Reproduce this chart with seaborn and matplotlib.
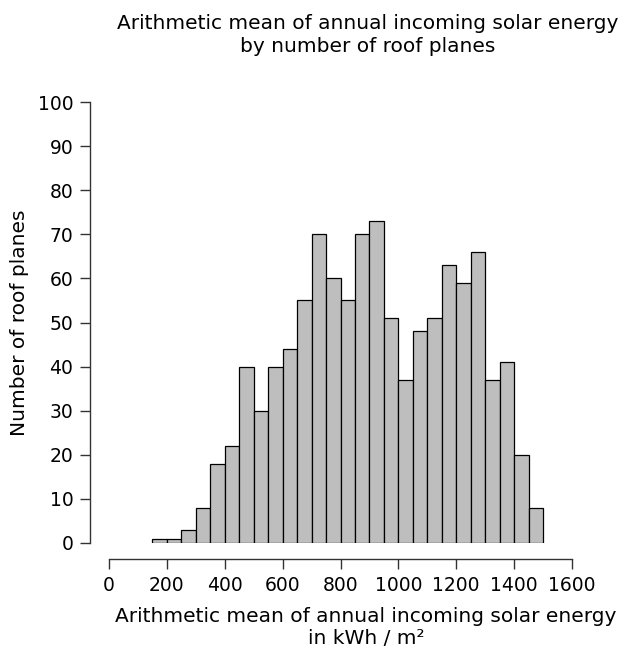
import numpy as np
import pandas as pd
import matplotlib
matplotlib.use("Agg")
import matplotlib.pyplot as plt
import seaborn as sns

# bin edges (kWh / m2) and counts per bin
bin_edges = list(range(150, 1501, 50))
counts = [1, 1, 3, 8, 18, 22, 40, 30, 40, 44, 55, 70, 60, 55, 70,
          73, 51, 37, 48, 51, 63, 59, 66, 37, 41, 20, 8]
x_ticks = [0, 200, 400, 600, 800, 1000, 1200, 1400, 1600]
y_ticks = [0, 10, 20, 30, 40, 50, 60, 70, 80, 90, 100]

centers = [(a + b) / 2 for a, b in zip(bin_edges[:-1], bin_edges[1:])]
df = pd.DataFrame({"energy": centers, "n": counts})

sns.set_style("white")
plt.rcParams['font.family'] = ['DejaVu Sans']
plt.rcParams['text.color'] = 'black'
plt.rcParams['axes.labelcolor'] = 'black'

fig = plt.figure(figsize=(6.22, 6.5), dpi=100)
ax = fig.add_axes([109 / 622, 107 / 650, 463 / 622, 441 / 650])

sns.histplot(data=df, x="energy", weights="n", bins=bin_edges,
             color="#bebebe", alpha=1, edgecolor="black", linewidth=0.9, ax=ax)

ax.set_xlim(0, 1600)
ax.set_ylim(0, 100)
ax.set_xticks(x_ticks)
ax.set_yticks(y_ticks)
ax.tick_params(axis="both", bottom=True, left=True, direction="out",
               length=7, width=1, color="#333333", labelsize=13.5, pad=5,
               labelcolor="black")
ax.set_xlabel("")
ax.set_ylabel("Number of roof planes", fontsize=14.5, labelpad=6)

sns.despine(ax=ax)
ax.spines["left"].set_position(("outward", 13.7))
ax.spines["bottom"].set_position(("outward", 11.5))
for s in ["left", "bottom"]:
    ax.spines[s].set_color("#333333")
    ax.spines[s].set_linewidth(1)

fig.text(368 / 622, 1 - 35 / 650,
         "Arithmetic mean of annual incoming solar energy\nby number of roof planes",
         ha="center", va="center", fontsize=14.5, linespacing=1.3)
fig.text(366 / 622, 1 - 627 / 650,
         "Arithmetic mean of annual incoming solar energy\nin kWh / m²",
         ha="center", va="center", fontsize=14.5, linespacing=1.2)

fig.savefig("out.png", dpi=100)
